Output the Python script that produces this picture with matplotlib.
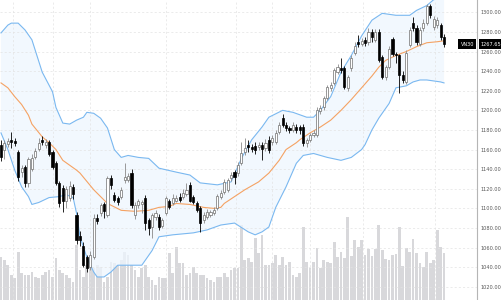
import numpy as np
import matplotlib
matplotlib.use('Agg')
import matplotlib.pyplot as plt
from matplotlib.ticker import FormatStrFormatter

# Daily OHLC of the index
opens = [1165, 1160, 1166, 1170, 1169, 1158, 1137, 1142, 1126, 1140,
         1152, 1161, 1170, 1165, 1168, 1158, 1146, 1126, 1121, 1108,
         1111, 1122, 1093, 1072, 1062, 1050, 1040, 1050, 1090, 1095,
         1104, 1093, 1131, 1114, 1111, 1112, 1129, 1129, 1136, 1093,
         1103, 1104, 1111, 1088, 1081, 1091, 1091, 1082, 1095, 1108,
         1105, 1108, 1112, 1112, 1115, 1124, 1112, 1105, 1100, 1088,
         1091, 1093, 1095, 1100, 1112, 1117, 1119, 1131, 1137, 1136,
         1146, 1157, 1165, 1163, 1164, 1163, 1165, 1162, 1170, 1168,
         1168, 1178, 1192, 1185, 1182, 1180, 1183, 1183, 1183, 1167,
         1170, 1175, 1175, 1199, 1203, 1213, 1223, 1228, 1239, 1243,
         1243, 1223, 1243, 1259, 1270, 1268, 1272, 1270, 1280, 1272,
         1280, 1254, 1234, 1244, 1273, 1258, 1256, 1236, 1229, 1267,
         1289, 1284, 1268, 1284, 1289, 1306, 1285, 1287, 1287, 1275]
highs = [1170, 1170, 1172, 1178, 1172, 1160, 1144, 1144, 1152, 1155,
         1162, 1172, 1174, 1171, 1170, 1160, 1148, 1128, 1124, 1123,
         1128, 1125, 1096, 1077, 1066, 1052, 1056, 1094, 1094, 1105,
         1106, 1133, 1134, 1117, 1113, 1122, 1146, 1136, 1140, 1106,
         1110, 1109, 1114, 1090, 1095, 1098, 1094, 1090, 1113, 1110,
         1115, 1114, 1116, 1120, 1126, 1127, 1114, 1108, 1102, 1096,
         1099, 1098, 1101, 1115, 1119, 1130, 1131, 1137, 1139, 1147,
         1168, 1172, 1170, 1166, 1168, 1168, 1168, 1171, 1174, 1175,
         1180, 1188, 1196, 1188, 1184, 1188, 1186, 1185, 1186, 1172,
         1177, 1180, 1203, 1205, 1215, 1226, 1229, 1243, 1247, 1253,
         1245, 1236, 1256, 1270, 1277, 1274, 1275, 1284, 1283, 1283,
         1283, 1256, 1246, 1266, 1275, 1260, 1258, 1240, 1262, 1285,
         1295, 1287, 1285, 1293, 1309, 1309, 1296, 1295, 1289, 1278]
lows = [1148, 1150, 1163, 1162, 1164, 1128, 1132, 1122, 1122, 1138,
        1150, 1159, 1165, 1162, 1153, 1140, 1124, 1101, 1096, 1100,
        1108, 1110, 1064, 1062, 1040, 1035, 1037, 1048, 1084, 1092,
        1090, 1091, 1120, 1106, 1103, 1110, 1126, 1127, 1100, 1089,
        1100, 1095, 1078, 1073, 1070, 1088, 1078, 1080, 1093, 1099,
        1103, 1106, 1106, 1110, 1113, 1106, 1104, 1096, 1076, 1085,
        1089, 1091, 1093, 1098, 1110, 1115, 1117, 1128, 1125, 1133,
        1144, 1154, 1158, 1157, 1155, 1160, 1149, 1159, 1156, 1165,
        1166, 1176, 1183, 1179, 1177, 1178, 1177, 1176, 1164, 1163,
        1168, 1173, 1173, 1196, 1200, 1211, 1220, 1226, 1237, 1238,
        1222, 1220, 1240, 1256, 1265, 1266, 1266, 1267, 1270, 1270,
        1249, 1232, 1231, 1242, 1255, 1248, 1218, 1228, 1227, 1265,
        1281, 1267, 1266, 1281, 1287, 1294, 1282, 1284, 1272, 1265]
closes = [1152, 1167, 1169, 1168, 1167, 1132, 1141, 1126, 1150, 1151,
          1159, 1167, 1168, 1168, 1155, 1142, 1126, 1105, 1108, 1120,
          1123, 1115, 1068, 1068, 1042, 1039, 1052, 1090, 1087, 1103,
          1097, 1131, 1124, 1109, 1106, 1119, 1132, 1133, 1103, 1103,
          1108, 1107, 1085, 1080, 1093, 1095, 1081, 1088, 1111, 1101,
          1111, 1111, 1109, 1116, 1119, 1108, 1107, 1098, 1085, 1093,
          1096, 1096, 1098, 1113, 1116, 1127, 1129, 1134, 1132, 1144,
          1156, 1162, 1163, 1161, 1160, 1165, 1161, 1167, 1160, 1172,
          1177, 1185, 1185, 1182, 1180, 1185, 1180, 1180, 1167, 1170,
          1175, 1177, 1200, 1202, 1213, 1224, 1226, 1241, 1244, 1241,
          1224, 1234, 1253, 1266, 1268, 1271, 1269, 1280, 1275, 1280,
          1251, 1234, 1244, 1263, 1258, 1256, 1236, 1231, 1259, 1282,
          1284, 1270, 1282, 1289, 1306, 1297, 1293, 1292, 1275, 1267.65]
# Volume (relative units)
volumes = [86, 80, 70, 50, 44, 96, 54, 50, 50, 56,
           46, 44, 50, 56, 60, 46, 84, 60, 54, 50,
           44, 36, 110, 60, 46, 70, 70, 64, 70, 66,
           36, 46, 76, 74, 70, 80, 96, 90, 70, 60,
           46, 64, 70, 46, 40, 30, 46, 44, 44, 94,
           54, 106, 74, 74, 50, 54, 66, 54, 50, 50,
           44, 40, 36, 46, 46, 54, 46, 60, 64, 64,
           150, 80, 84, 76, 124, 94, 130, 70, 70, 74,
           90, 70, 86, 70, 76, 50, 46, 54, 146, 76,
           64, 76, 104, 64, 80, 76, 74, 116, 86, 96,
           84, 166, 88, 120, 106, 120, 90, 102, 88, 102,
           150, 100, 82, 80, 90, 92, 146, 68, 104, 96,
           122, 94, 74, 66, 96, 74, 80, 140, 106, 94]

# Bollinger bands (20, 2) at some sessions
upper_idx = [0, 2, 3, 5, 7, 9, 10, 12, 15, 16, 18, 20, 22, 24, 25, 27, 29, 31,
             33, 35, 37, 40, 43, 46, 51, 55, 58, 63, 67, 70, 73, 76, 78, 82,
             85, 89, 91, 93, 96, 99, 102, 105, 108, 111, 115, 119, 121, 124,
             126, 129]
upper_val = [1279, 1287, 1289, 1289, 1282, 1272, 1261, 1239, 1219, 1203, 1187,
             1186, 1190, 1193, 1198, 1197, 1192, 1182, 1160, 1152, 1154, 1152,
             1151, 1141, 1137, 1134, 1126, 1124, 1127, 1151, 1170, 1183, 1193,
             1200, 1198, 1193, 1193, 1200, 1214, 1239, 1256, 1276, 1292, 1299,
             1297, 1297, 1302, 1307, 1313, 1314]
mid_idx = [0, 2, 4, 6, 8, 9, 12, 14, 16, 18, 22, 23, 27, 31, 35, 39, 43, 46,
           49, 51, 55, 59, 62, 64, 65, 68, 71, 75, 78, 81, 83, 86, 87, 90, 93,
           96, 99, 102, 105, 108, 110, 112, 115, 118, 121, 124, 127, 129]
mid_val = [1228, 1223, 1214, 1206, 1195, 1186, 1173, 1167, 1160, 1149, 1139,
           1136, 1119, 1105, 1098, 1097, 1098, 1101, 1102, 1105, 1104, 1101,
           1100, 1101, 1105, 1112, 1119, 1127, 1136, 1149, 1160, 1167, 1170,
           1177, 1183, 1190, 1200, 1211, 1223, 1235, 1244, 1251, 1256, 1260,
           1265, 1269, 1270, 1271]
lower_idx = [0, 2, 4, 6, 8, 9, 11, 14, 17, 19, 21, 22, 23, 25, 27, 28, 30, 32,
             34, 38, 41, 44, 46, 50, 56, 60, 64, 68, 72, 74, 76, 78, 80, 83,
             86, 88, 91, 95, 99, 102, 105, 106, 108, 110, 111, 113, 115, 118,
             120, 122, 124, 128, 129]
lower_val = [1177, 1160, 1139, 1122, 1112, 1104, 1106, 1111, 1112, 1114, 1111,
             1095, 1071, 1050, 1035, 1030, 1030, 1035, 1042, 1042, 1042, 1057,
             1071, 1073, 1075, 1078, 1083, 1085, 1076, 1073, 1076, 1081, 1101,
             1122, 1146, 1154, 1156, 1152, 1149, 1152, 1160, 1165, 1180, 1192,
             1197, 1207, 1223, 1225, 1229, 1231, 1231, 1229, 1228]

price_ticks = list(range(1020, 1301, 20))
month_marks = [3.5, 15, 26, 48, 68.5, 79, 90, 105.5, 126.5]
index_name = 'VN30'

opens = np.array(opens, dtype=float)
closes = np.array(closes, dtype=float)
highs = np.array(highs, dtype=float)
lows = np.array(lows, dtype=float)
x = np.arange(len(closes))
up = closes >= opens

fig = plt.figure(figsize=(5.01, 3.0), dpi=100)
rect = [0, 0, 477 / 501, 1]

# Volume in the back
ax_vol = fig.add_axes(rect)
ax_vol.bar(x, volumes, width=0.8, color='#d8d8db', linewidth=0)
ax_vol.set_ylim(0, 600)
ax_vol.axis('off')

# Price axes on top
ax = fig.add_axes(rect, sharex=ax_vol)
ax.patch.set_visible(False)

# Bollinger band
band_x = np.r_[upper_idx, lower_idx[::-1]]
band_y = np.r_[upper_val, lower_val[::-1]]
ax.fill(band_x, band_y, color='#eef6fe', alpha=0.75, lw=0, zorder=1)
ax.plot(upper_idx, upper_val, color='#7ab8f0', lw=0.8, zorder=2)
ax.plot(lower_idx, lower_val, color='#7ab8f0', lw=0.8, zorder=2)
ax.plot(mid_idx, mid_val, color='#f5a263', lw=0.8, zorder=2)

# Candles
ax.vlines(x[up], lows[up], highs[up], color='#8a8a8a', lw=0.6, zorder=3)
ax.vlines(x[~up], lows[~up], highs[~up], color='black', lw=0.6, zorder=3)
body = np.maximum(np.abs(closes - opens), 0.8)
bottom = np.minimum(opens, closes)
ax.bar(x[up], body[up], bottom=bottom[up], width=0.62, color='white',
       edgecolor='#6f6f6f', linewidth=0.5, zorder=4)
ax.bar(x[~up], body[~up], bottom=bottom[~up], width=0.62, color='black',
       edgecolor='black', linewidth=0.5, zorder=4)

ax.set_xlim(-0.29, 138.6)
ax.set_ylim(1006.5, 1312.6)

# Axis styling
for side in ['top', 'left', 'bottom']:
    ax.spines[side].set_visible(False)
ax.spines['right'].set_color('#b5b5b5')
ax.spines['right'].set_linewidth(0.8)
ax.yaxis.tick_right()
ax.set_yticks(price_ticks)
ax.yaxis.set_major_formatter(FormatStrFormatter('%.2f'))
ax.tick_params(axis='y', length=0, labelsize=3.6, colors='#555555', pad=2.5)
ax.set_xticks(month_marks)
ax.tick_params(axis='x', length=0, labelbottom=False)
ax.grid(True, color='#e3e3e3', lw=0.5, ls=(0, (3, 3)), zorder=0)

# Last price label
ax.annotate(index_name, xy=(0.994, closes[-1]), xycoords=('axes fraction', 'data'),
            ha='right', va='center', fontsize=3.6, color='white', annotation_clip=False,
            bbox=dict(boxstyle='square,pad=0.45', fc='black', ec='none'))
ax.annotate('%.2f' % closes[-1], xy=(1.008, closes[-1]), xycoords=('axes fraction', 'data'),
            ha='left', va='center', fontsize=3.6, color='white', annotation_clip=False,
            bbox=dict(boxstyle='square,pad=0.45', fc='black', ec='none'))

fig.savefig('out.png', dpi=100)
